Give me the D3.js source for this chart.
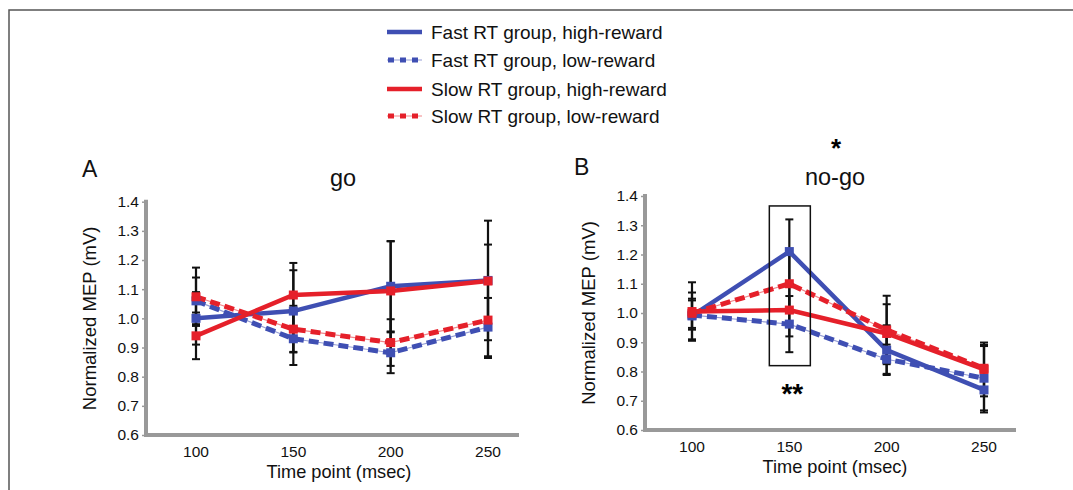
<!DOCTYPE html>
<html>
<head>
<meta charset="utf-8">
<script src="https://cdn.jsdelivr.net/npm/d3@7"></script>
<style>
  body { margin: 0; background: #fff; }
  svg { display: block; font-family: "Liberation Sans", Arial, sans-serif; }
</style>
</head>
<body>
<div id="chart"></div>
<script>
const width = 1073
const height = 490

// Data
const timePoints = [100, 150, 200, 250]
const yTicks = [0.6, 0.7, 0.8, 0.9, 1.0, 1.1, 1.2, 1.3, 1.4]

const seriesNames = [
    "Fast RT group, high-reward",
    "Fast RT group, low-reward",
    "Slow RT group, high-reward",
    "Slow RT group, low-reward",
]
const seriesColors = ["#3f4fb3", "#3f4fb3", "#e5202a", "#e5202a"]
const seriesDashed = [false, true, false, true]

// panel A: go
const goFastHigh = [1.00, 1.025, 1.11, 1.13]
const goFastLow = [1.06, 0.93, 0.882, 0.97]
const goSlowHigh = [0.94, 1.08, 1.094, 1.128]
const goSlowLow = [1.074, 0.963, 0.917, 0.994]
const goFastHighErr = [0.09, 0.14, 0.155, 0.205]
const goFastLowErr = [0.08, 0.09, 0.07, 0.10]
const goSlowHighErr = [0.08, 0.11, 0.17, 0.125]
const goSlowLowErr = [0.10, 0.08, 0.08, 0.13]

// panel B: no-go
const nogoFastHigh = [0.99, 1.21, 0.873, 0.737]
const nogoFastLow = [0.993, 0.962, 0.842, 0.777]
const nogoSlowHigh = [1.005, 1.01, 0.93, 0.807]
const nogoSlowLow = [0.999, 1.10, 0.942, 0.811]
const nogoFastHighErr = [0.08, 0.11, 0.085, 0.077]
const nogoFastLowErr = [0.05, 0.096, 0.05, 0.11]
const nogoSlowHighErr = [0.10, 0.09, 0.10, 0.092]
const nogoSlowLowErr = [0.05, 0.10, 0.117, 0.08]

const svg = d3.select("#chart").append("svg")
    .attr("width", width)
    .attr("height", height)

// figure frame (top and left edges)
svg.append("path")
    .attr("d", `M9,490 L9,10 L1073,10`)
    .attr("fill", "none")
    .attr("stroke", "#555")
    .attr("stroke-width", 1.5)

// Legend
const legend = svg.append("g").classed("legend", true)
const legendRows = [32, 60, 89, 116]
seriesNames.forEach((name, i) => {
    const y = legendRows[i]
    if (seriesDashed[i]) {
        legend.append("line")
            .attr("x1", 387).attr("x2", 422).attr("y1", y).attr("y2", y)
            .attr("stroke", seriesColors[i]).attr("stroke-opacity", 0.55).attr("stroke-width", 1)
        legend.append("line")
            .attr("x1", 388).attr("x2", 422).attr("y1", y).attr("y2", y)
            .attr("stroke", seriesColors[i]).attr("stroke-width", 5)
            .attr("stroke-dasharray", "6,6")
    } else {
        legend.append("line")
            .attr("x1", 387).attr("x2", 422).attr("y1", y).attr("y2", y)
            .attr("stroke", seriesColors[i]).attr("stroke-width", 4.5)
    }
    legend.append("text")
        .attr("x", 431).attr("y", y + 6.5)
        .attr("font-size", 19)
        .attr("fill", "#111")
        .text(name)
})

function drawPanel(opts) {
    const { series, errors, left, axisRight, xRange, yRange } = opts
    const x = d3.scalePoint().domain(timePoints).range(xRange)
    const y = d3.scaleLinear().domain([0.6, 1.4]).range(yRange)
    const g = svg.append("g")

    // y axis
    const yAxis = g.append("g")
        .attr("transform", `translate(${left},0)`)
        .call(d3.axisLeft(y).tickValues(yTicks).tickFormat(d3.format(".1f")).tickSize(4).tickSizeOuter(0))
    yAxis.select(".domain").remove()
    yAxis.selectAll(".tick line").attr("stroke", "#999").attr("stroke-width", 1.5)
    yAxis.selectAll(".tick text")
        .attr("font-size", 15.5).attr("fill", "#111")
        .attr("font-family", "Liberation Sans, Arial, sans-serif")
        .attr("x", -7)

    // axis lines (thick gray)
    g.append("path")
        .attr("d", `M${left},${y(1.4) - 2} L${left},${y(0.6)} L${axisRight},${y(0.6)}`)
        .attr("fill", "none")
        .attr("stroke", "#999")
        .attr("stroke-width", 4)

    // x tick labels
    g.append("g")
        .selectAll("text")
        .data(timePoints)
        .join("text")
        .attr("x", d => x(d))
        .attr("y", y(0.6) + 22)
        .attr("text-anchor", "middle")
        .attr("font-size", 15.5)
        .attr("fill", "#111")
        .text(d => d)

    const line = d3.line()
        .x((d, i) => x(timePoints[i]))
        .y(d => y(d))

    // lines
    series.forEach((values, k) => {
        if (seriesDashed[k]) {
            g.append("path")
                .attr("d", line(values))
                .attr("fill", "none")
                .attr("stroke", seriesColors[k])
                .attr("stroke-opacity", 0.55)
                .attr("stroke-width", 1.2)
            g.append("path")
                .attr("d", line(values))
                .attr("fill", "none")
                .attr("stroke", seriesColors[k])
                .attr("stroke-width", 5)
                .attr("stroke-dasharray", "10,5")
        } else {
            g.append("path")
                .attr("d", line(values))
                .attr("fill", "none")
                .attr("stroke", seriesColors[k])
                .attr("stroke-width", 4.5)
        }
    })

    // error bars
    const eb = g.append("g")
    series.forEach((values, k) => {
        values.forEach((v, i) => {
            const cx = x(timePoints[i])
            const e = errors[k][i]
            eb.append("line")
                .attr("x1", cx).attr("x2", cx)
                .attr("y1", y(v - e)).attr("y2", y(v + e))
                .attr("stroke", "#111").attr("stroke-width", 2.2)
            ;[v - e, v + e].forEach(c => {
                eb.append("line")
                    .attr("x1", cx - 4).attr("x2", cx + 4)
                    .attr("y1", y(c)).attr("y2", y(c))
                    .attr("stroke", "#111").attr("stroke-width", 2)
            })
        })
    })

    // markers
    series.forEach((values, k) => {
        g.append("g")
            .selectAll("rect")
            .data(values)
            .join("rect")
            .attr("x", (d, i) => x(timePoints[i]) - 4.5)
            .attr("y", d => y(d) - 4.5)
            .attr("width", 9)
            .attr("height", 9)
            .attr("fill", seriesColors[k])
    })

    // axis titles
    const cx = (xRange[0] + xRange[1]) / 2 - 3
    g.append("text")
        .attr("transform", `translate(${left - 50},${(yRange[0] + yRange[1]) / 2}) rotate(-90)`)
        .attr("text-anchor", "middle")
        .attr("font-size", 18.5)
        .attr("fill", "#111")
        .text("Normalized MEP (mV)")
    g.append("text")
        .attr("x", cx)
        .attr("y", y(0.6) + 43)
        .attr("text-anchor", "middle")
        .attr("font-size", 18.2)
        .attr("fill", "#111")
        .text("Time point (msec)")

    return { g, x, y, cx }
}

// Panel A
const A = drawPanel({
    series: [goFastHigh, goFastLow, goSlowHigh, goSlowLow],
    errors: [goFastHighErr, goFastLowErr, goSlowHighErr, goSlowLowErr],
    left: 146, axisRight: 519,
    xRange: [196, 488], yRange: [435, 201.7],
})
A.g.append("text").attr("x", 82).attr("y", 177).attr("font-size", 23).attr("fill", "#111").text("A")
A.g.append("text").attr("x", 343).attr("y", 186).attr("text-anchor", "middle")
    .attr("font-size", 23.5).attr("fill", "#111").text("go")

// Panel B
const B = drawPanel({
    series: [nogoFastHigh, nogoFastLow, nogoSlowHigh, nogoSlowLow],
    errors: [nogoFastHighErr, nogoFastLowErr, nogoSlowHighErr, nogoSlowLowErr],
    left: 645, axisRight: 1016,
    xRange: [692, 984], yRange: [430, 196],
})
B.g.append("text").attr("x", 574).attr("y", 175).attr("font-size", 23).attr("fill", "#111").text("B")
B.g.append("text").attr("x", 835).attr("y", 185).attr("text-anchor", "middle")
    .attr("font-size", 23.5).attr("fill", "#111").text("no-go")
B.g.append("text").attr("x", 836).attr("y", 157).attr("text-anchor", "middle")
    .attr("font-size", 26).attr("font-weight", "bold").text("*")

// highlight box around 150 ms
const bx = B.x(150)
B.g.append("rect")
    .attr("x", bx - 20).attr("y", B.y(1.366))
    .attr("width", 41).attr("height", B.y(0.82) - B.y(1.366))
    .attr("fill", "none").attr("stroke", "#111").attr("stroke-width", 1.5)
B.g.append("text").attr("x", bx + 3).attr("y", 403).attr("text-anchor", "middle")
    .attr("font-size", 28).attr("font-weight", "bold").text("**")
</script>
</body>
</html>
